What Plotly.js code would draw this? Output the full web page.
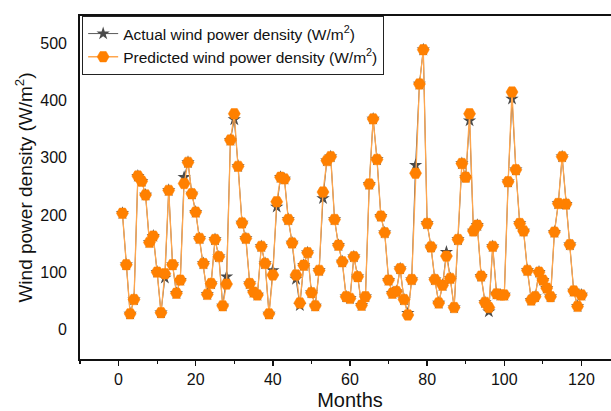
<!DOCTYPE html>
<html>
<head>
<meta charset="utf-8">
<script src="https://cdn.plot.ly/plotly-3.0.1.min.js"></script>
<style>
  html, body { margin: 0; padding: 0; overflow: hidden; background: #fff; }
  #chart { width: 625px; height: 411px; }
</style>
</head>
<body>
<div id="chart"></div>
<script>
const months = [1,2,3,4,5,6,7,8,9,10,11,12,13,14,15,16,17,18,19,20,
  21,22,23,24,25,26,27,28,29,30,31,32,33,34,35,36,37,38,39,40,
  41,42,43,44,45,46,47,48,49,50,51,52,53,54,55,56,57,58,59,60,
  61,62,63,64,65,66,67,68,69,70,71,72,73,74,75,76,77,78,79,80,
  81,82,83,84,85,86,87,88,89,90,91,92,93,94,95,96,97,98,99,100,
  101,102,103,104,105,106,107,108,109,110,111,112,113,114,115,116,117,118,119,120];

const predicted = [203,113,27,52,268,259,235,152,163,100,
  29,97,243,113,63,86,255,292,237,205,
  159,115,61,80,157,127,41,79,331,377,
  285,186,159,80,65,60,145,115,27,95,
  223,266,263,192,151,95,46,112,134,64,
  41,103,240,295,302,192,147,118,57,54,
  127,92,42,57,254,368,297,198,169,86,
  63,66,106,52,25,87,273,429,489,185,
  144,87,46,77,128,89,38,157,290,266,
  377,172,182,93,47,38,145,62,60,60,
  258,415,279,185,172,103,51,57,100,86,
  72,57,170,220,302,219,148,67,40,60];

const actual = [203,113,27,52,268,259,235,152,163,100,
  29,90,243,113,63,86,266,292,237,205,
  159,115,61,80,157,127,41,92,331,367,
  285,186,159,80,65,60,145,115,27,103,
  214,266,263,192,151,88,42,112,134,64,
  41,103,229,295,302,192,147,118,57,54,
  127,92,42,57,254,368,297,198,169,86,
  63,66,106,52,28,87,287,429,489,185,
  144,87,46,77,135,89,38,157,290,266,
  365,172,182,93,47,31,145,62,60,60,
  258,403,279,185,172,103,51,57,100,86,
  72,57,170,220,302,219,148,67,40,60];

const xTicks = [0,20,40,60,80,100,120];
const yTicks = [0,100,200,300,400,500];

const traces = [
  {
    x: months, y: actual, type: 'scatter', mode: 'lines+markers',
    name: 'Actual wind power density (W/m<sup>2</sup>)',
    line: {color: '#5a5a5a', width: 1},
    marker: {symbol: 'star', size: 10, color: '#4a4a4a'}
  },
  {
    x: months, y: predicted, type: 'scatter', mode: 'lines+markers',
    name: 'Predicted wind power density (W/m<sup>2</sup>)',
    line: {color: '#ffa64d', width: 1.3},
    marker: {symbol: 'hexagon2', size: 12, color: '#ff8000',
             line: {color: '#ff8000', width: 0.5}}
  }
];

const layout = {
  width: 625, height: 411,
  margin: {l: 80, r: 5, t: 16, b: 52},
  paper_bgcolor: '#ffffff', plot_bgcolor: '#ffffff',
  font: {family: 'Liberation Sans, Arial, sans-serif', color: '#111'},
  showlegend: true,
  legend: {
    x: 0.004, y: 1, xanchor: 'left', yanchor: 'top',
    bgcolor: '#ffffff', bordercolor: '#222', borderwidth: 1,
    font: {size: 15.5, color: '#111'},
    tracegroupgap: 0, itemwidth: 30
  },
  xaxis: {
    range: [-10, 130],
    tickvals: xTicks, ticktext: xTicks.map(String),
    ticks: 'outside', ticklen: 5, tickwidth: 1.5, tickcolor: '#111',
    minor: {tickvals: [-10,10,30,50,70,90,110,130], ticks: 'outside', ticklen: 3, tickwidth: 1.2, tickcolor: '#111'},
    showline: true, linecolor: '#111', linewidth: 1.8, mirror: true,
    showgrid: false, zeroline: false,
    tickfont: {size: 16, color: '#111'},
    title: {text: 'Months', font: {size: 20, color: '#111'}, standoff: 10}
  },
  yaxis: {
    range: [-52, 548],
    tickvals: yTicks, ticktext: yTicks.map(String),
    ticks: '', ticklabelstandoff: 8,
    showline: true, linecolor: '#111', linewidth: 1.8, mirror: true,
    showgrid: false, zeroline: false,
    tickfont: {size: 16, color: '#111'},
    title: {text: 'Wind power density (W/m<sup>2</sup>)', font: {size: 19, color: '#111'}, standoff: 3}
  }
};

Plotly.newPlot('chart', traces, layout, {displayModeBar: false, staticPlot: true});
</script>
</body>
</html>
